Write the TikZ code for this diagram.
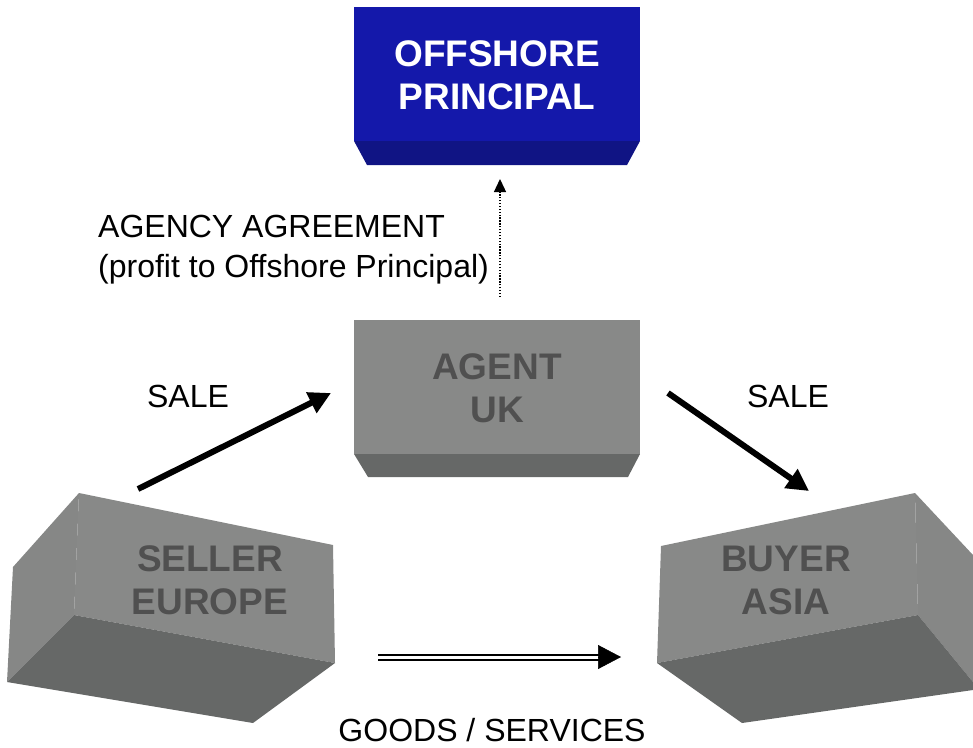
\documentclass[tikz,border=0pt]{standalone}
\usepackage{fontspec}
\setmainfont{Liberation Sans}
\usetikzlibrary{arrows.meta,calc}

\definecolor{principalfront}{RGB}{20,24,170}
\definecolor{principalbevel}{RGB}{16,20,132}
\definecolor{boxfront}{RGB}{136,137,136}
\definecolor{boxside}{RGB}{134,135,134}
\definecolor{boxbottom}{RGB}{102,104,103}
\definecolor{boxtextgrey}{RGB}{80,80,80}

\begin{document}
\begin{tikzpicture}[x=1pt,y=1pt,yscale=-1,xscale=1,
  boxtext/.style={align=center,inner sep=0pt,font=\fontsize{37}{43}\selectfont\bfseries},
  plaintext/.style={inner sep=0pt,font=\fontsize{32}{40}\selectfont},
  salearrow/.style={line width=6pt,-{Triangle[length=22pt,width=22pt]}},
  goodsline/.style={double,double distance=3pt,line width=2pt}]
\useasboundingbox (0,0) rectangle (973,747);

%Shape: Cube [id:principal]
\fill[principalfront] (354,7) rectangle (640,141);
\fill[principalbevel] (354,141) -- (640,141) -- (627,165) -- (367,165) -- cycle;
%Shape: Cube [id:agent]
\fill[boxfront] (354,320) rectangle (640,454);
\fill[boxbottom] (354,454) -- (640,454) -- (628,477) -- (368,477) -- cycle;
%Shape: Cube [id:seller]
\fill[boxside] (13,567) -- (79,493) -- (74,615) -- (7,682) -- cycle;
\fill[boxfront] (79,493) -- (333,545) -- (335,663) -- (74,615) -- cycle;
\fill[boxbottom] (74,615) -- (335,663) -- (253,723) -- (7,682) -- cycle;
%Shape: Cube [id:buyer]
\fill[boxside] (915,493) -- (973,555) -- (973,682) -- (918,615) -- cycle;
\fill[boxfront] (661,546) -- (915,493) -- (918,615) -- (657,663) -- cycle;
\fill[boxbottom] (657,663) -- (918,615) -- (973,682) -- (973,690) -- (742,723) -- cycle;

% Text Node
\node (principal) at (497,75) [boxtext,text=white] {OFFSHORE\\PRINCIPAL};
% Text Node
\node (agent) at (497,388) [boxtext,text=boxtextgrey] {AGENT\\UK};
% Text Node
\node (seller) at (210,580) [boxtext,text=boxtextgrey] {SELLER\\EUROPE};
% Text Node
\node (buyer) at (786,580) [boxtext,text=boxtextgrey] {BUYER\\ASIA};
% Text Node
\node (agreement) at (98,250) [plaintext,anchor=west,align=left] {AGENCY AGREEMENT\\(profit to Offshore Principal)};
% Text Node
\node (saleleft) at (188,396) [plaintext] {SALE};
% Text Node
\node (saleright) at (788,396) [plaintext] {SALE};
% Text Node
\node (goods) at (492,730) [plaintext] {GOODS / SERVICES};

\coordinate (agreeA) at (500,297);
\coordinate (agreeB) at (500,179);
\coordinate (saleA) at (138,489);
\coordinate (saleB) at (331,393);
\coordinate (saleC) at (668,393);
\coordinate (saleD) at (809,491);
\coordinate (goodsA) at (378,657);
\coordinate (goodsB) at (621,657);

%Straight Lines [id:agreement]
\draw[line width=1.3pt,dash pattern=on 1.3pt off 1.6pt,-{Triangle[length=13pt,width=12pt]}] (agreeA) -- (agreeB);
%Straight Lines [id:sale]
\draw[salearrow] (saleA) -- (saleB);
\draw[salearrow] (saleC) -- (saleD);
%Straight Lines [id:goods]
\draw[goodsline] (goodsA) -- ($(goodsB)+(-22,0)$);
\draw[line width=0.5pt,-{Triangle[length=23pt,width=24pt]}] ($(goodsB)+(-23,0)$) -- (goodsB);

\end{tikzpicture}
\end{document}
